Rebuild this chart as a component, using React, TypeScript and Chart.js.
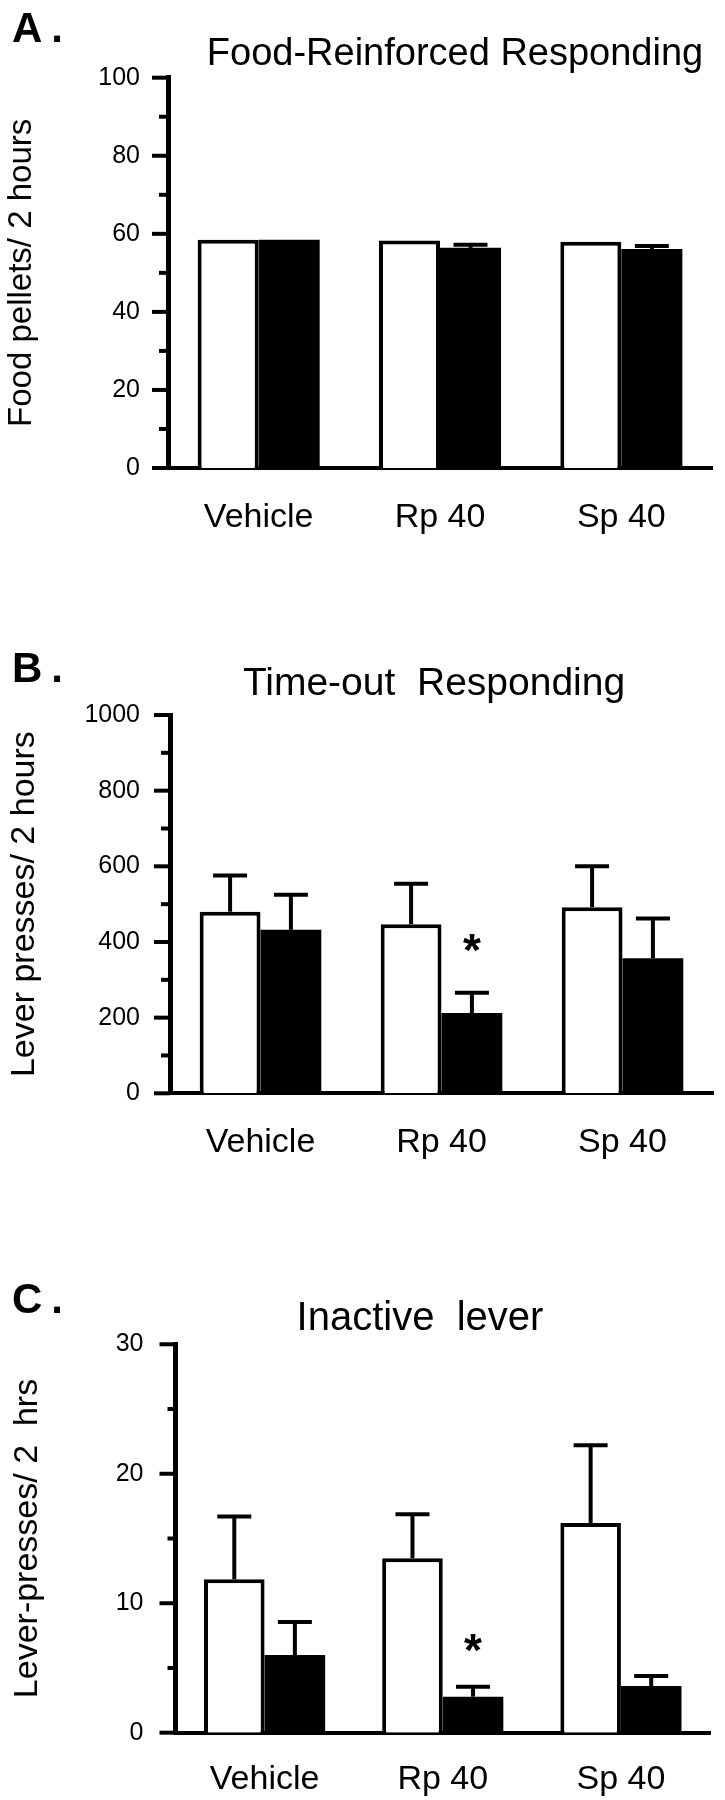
import React, { useEffect, useRef } from "react";
import { Chart, registerables } from "chart.js";

Chart.register(...registerables);

const FONT = '"Liberation Sans", Arial, Helvetica, sans-serif';
Chart.defaults.font.family = FONT;
Chart.defaults.color = "#000";

// ---------- data ----------
const categories = ["Vehicle", "Rp 40", "Sp 40"];

// Panel A
const foodTitle = "Food-Reinforced Responding";
const foodYLabel = "Food pellets/ 2 hours";
const foodOpen = [58.5, 58.3, 58.0];
const foodOpenErr = [0, 0, 0];
const foodFilled = [58.5, 56.4, 56.1];
const foodFilledErr = [0, 0.8, 0.8];
const foodStars = [null, null, null];
const foodMajorTicks = [0, 20, 40, 60, 80, 100];
const foodMinorTicks = [10, 30, 50, 70, 90];

// Panel B
const timeoutTitle = "Time-out  Responding";
const timeoutYLabel = "Lever presses/ 2 hours";
const timeoutOpen = [480, 447, 492];
const timeoutOpenErr = [96, 107, 108];
const timeoutFilled = [432, 212, 357];
const timeoutFilledErr = [93, 54, 105];
const timeoutStars = [null, 403, null];
const timeoutMajorTicks = [0, 200, 400, 600, 800, 1000];
const timeoutMinorTicks = [100, 300, 500, 700, 900];

// Panel C
const inactiveTitle = "Inactive  lever";
const inactiveYLabel = "Lever-presses/ 2  hrs";
const inactiveOpen = [11.85, 13.47, 16.2];
const inactiveOpenErr = [4.85, 3.4, 6.0];
const inactiveFilled = [6.0, 2.78, 3.6];
const inactiveFilledErr = [2.55, 0.77, 0.78];
const inactiveStars = [null, 7.1, null];
const inactiveMajorTicks = [0, 10, 20, 30];
const inactiveMinorTicks = [5, 15, 25];

// ---------- panel setup (layout only) ----------
const panels = [
  {
    letter: "A.", title: foodTitle, yLabel: foodYLabel,
    open: foodOpen, openErr: foodOpenErr, filled: foodFilled, filledErr: foodFilledErr,
    stars: foodStars, major: foodMajorTicks, minor: foodMinorTicks,
    top: 0, height: 560, areaTop: 77.7, areaBottom: 468, left: 168, right: 712,
    yTickPad: 28, yTitleSize: 33, yTitlePad: 2, xPad: 29, catPct: 0.673,
    letterBase: 42, titleX: 455, titleBase: 65, titleSize: 38, minorLen: 9,
  },
  {
    letter: "B.", title: timeoutTitle, yLabel: timeoutYLabel,
    open: timeoutOpen, openErr: timeoutOpenErr, filled: timeoutFilled, filledErr: timeoutFilledErr,
    stars: timeoutStars, major: timeoutMajorTicks, minor: timeoutMinorTicks,
    top: 560, height: 600, areaTop: 155, areaBottom: 533.3, left: 170, right: 713,
    yTickPad: 30, yTitleSize: 34, yTitlePad: 4, xPad: 29, catPct: 0.672,
    letterBase: 121.7, titleX: 434, titleBase: 135, titleSize: 39, minorLen: 9,
  },
  {
    letter: "C.", title: inactiveTitle, yLabel: inactiveYLabel,
    open: inactiveOpen, openErr: inactiveOpenErr, filled: inactiveFilled, filledErr: inactiveFilledErr,
    stars: inactiveStars, major: inactiveMajorTicks, minor: inactiveMinorTicks,
    top: 1160, height: 640, areaTop: 184.3, areaBottom: 572.7, left: 175.5, right: 710,
    yTickPad: 32, yTitleSize: 34, yTitlePad: 7, xPad: 27, catPct: 0.68,
    letterBase: 153, titleX: 420, titleBase: 170, titleSize: 40, minorLen: 8,
  },
];

type PanelCfg = (typeof panels)[number];

function makePlugin(cfg: PanelCfg) {
  return {
    id: "decor",
    afterDatasetsDraw(chart: any) {
      const ctx = chart.ctx;
      const y = chart.scales.y;
      const errs = [cfg.openErr, cfg.filledErr];
      ctx.save();
      ctx.strokeStyle = "#000";
      ctx.lineWidth = 4;
      ctx.lineCap = "butt";
      chart.data.datasets.forEach((ds: any, di: number) => {
        const meta = chart.getDatasetMeta(di);
        meta.data.forEach((bar: any, i: number) => {
          const e = errs[di][i];
          if (!e) return;
          const v = ds.data[i];
          const yBase = y.getPixelForValue(v);
          const yTop = y.getPixelForValue(v + e);
          ctx.beginPath();
          ctx.moveTo(bar.x, yBase);
          ctx.lineTo(bar.x, yTop);
          ctx.stroke();
          ctx.beginPath();
          ctx.moveTo(bar.x - 17, yTop);
          ctx.lineTo(bar.x + 17, yTop);
          ctx.stroke();
        });
      });
      // significance stars above filled bars
      const meta1 = chart.getDatasetMeta(1);
      ctx.fillStyle = "#000";
      ctx.font = `bold 46px ${FONT}`;
      ctx.textAlign = "center";
      ctx.textBaseline = "alphabetic";
      cfg.stars.forEach((s: number | null, i: number) => {
        if (s == null) return;
        const bar = meta1.data[i];
        ctx.fillText("*", bar.x, y.getPixelForValue(s) + 25);
      });
      ctx.restore();
    },
    afterDraw(chart: any) {
      const ctx = chart.ctx;
      const y = chart.scales.y;
      const ax = chart.chartArea.left;
      ctx.save();
      ctx.strokeStyle = "#000";
      ctx.lineWidth = 4;
      ctx.lineCap = "butt";
      cfg.major.forEach((v: number) => {
        const py = y.getPixelForValue(v);
        ctx.beginPath();
        ctx.moveTo(ax - 16, py);
        ctx.lineTo(ax, py);
        ctx.stroke();
      });
      cfg.minor.forEach((v: number) => {
        const py = y.getPixelForValue(v);
        ctx.beginPath();
        ctx.moveTo(ax - cfg.minorLen, py);
        ctx.lineTo(ax, py);
        ctx.stroke();
      });
      // title
      ctx.fillStyle = "#000";
      ctx.font = `${cfg.titleSize}px ${FONT}`;
      ctx.textAlign = "center";
      ctx.textBaseline = "alphabetic";
      ctx.fillText(cfg.title, cfg.titleX, cfg.titleBase);
      // panel letter
      ctx.font = `bold 42px ${FONT}`;
      ctx.textAlign = "left";
      try { (ctx as any).letterSpacing = "9px"; } catch (e) {}
      ctx.fillText(cfg.letter, 12, cfg.letterBase);
      try { (ctx as any).letterSpacing = "0px"; } catch (e) {}
      ctx.restore();
    },
  };
}

function Panel({ cfg }: { cfg: PanelCfg }) {
  const ref = useRef<HTMLCanvasElement>(null);
  useEffect(() => {
    const canvas = ref.current;
    if (!canvas) return;
    const chart = new Chart(canvas, {
      type: "bar",
      data: {
        labels: categories,
        datasets: [
          {
            data: cfg.open,
            backgroundColor: "#fff",
            borderColor: "#000",
            borderWidth: 4,
            categoryPercentage: cfg.catPct,
            barPercentage: 1,
          },
          {
            data: cfg.filled,
            backgroundColor: "#000",
            borderColor: "#000",
            borderWidth: 0,
            categoryPercentage: cfg.catPct,
            barPercentage: 1,
          },
        ],
      },
      options: {
        responsive: false,
        animation: false,
        devicePixelRatio: 1,
        events: [],
        layout: {
          padding: { left: 0, right: 725 - cfg.right, top: cfg.areaTop, bottom: 0 },
        },
        plugins: {
          legend: { display: false },
          tooltip: { enabled: false },
          title: { display: false },
        },
        scales: {
          x: {
            type: "category",
            offset: true,
            z: 1,
            grid: { display: false, drawTicks: false },
            border: { display: true, width: 4, color: "#000" },
            ticks: {
              color: "#000",
              font: { size: 34, family: FONT },
              padding: cfg.xPad,
              maxRotation: 0,
              autoSkip: false,
            },
            afterFit: (s: any) => {
              s.height = cfg.height - cfg.areaBottom;
            },
          },
          y: {
            min: cfg.major[0],
            max: cfg.major[cfg.major.length - 1],
            grid: { display: false, drawTicks: false },
            border: { display: true, width: 5, color: "#000" },
            ticks: {
              color: "#000",
              font: { size: 25, family: FONT },
              padding: cfg.yTickPad,
              callback: (v: any) => String(v),
            },
            afterBuildTicks: (s: any) => {
              s.ticks = cfg.major.map((v: number) => ({ value: v }));
            },
            title: {
              display: true,
              text: cfg.yLabel,
              color: "#000",
              font: { size: cfg.yTitleSize, family: FONT },
              padding: { top: cfg.yTitlePad, bottom: 0 },
            },
            afterFit: (s: any) => {
              s.width = cfg.left;
            },
          },
        },
      },
      plugins: [makePlugin(cfg)],
    } as any);
    return () => chart.destroy();
  }, [cfg]);
  return (
    <canvas
      ref={ref}
      width={725}
      height={cfg.height}
      style={{
        position: "absolute",
        left: 0,
        top: cfg.top,
        width: 725,
        height: cfg.height,
        display: "block",
      }}
    />
  );
}

export default function App() {
  return (
    <div
      style={{
        position: "absolute",
        left: 0,
        top: 0,
        width: 725,
        height: 1800,
        background: "#fff",
        overflow: "hidden",
      }}
    >
      {panels.map((p) => (
        <Panel key={p.letter} cfg={p} />
      ))}
    </div>
  );
}
